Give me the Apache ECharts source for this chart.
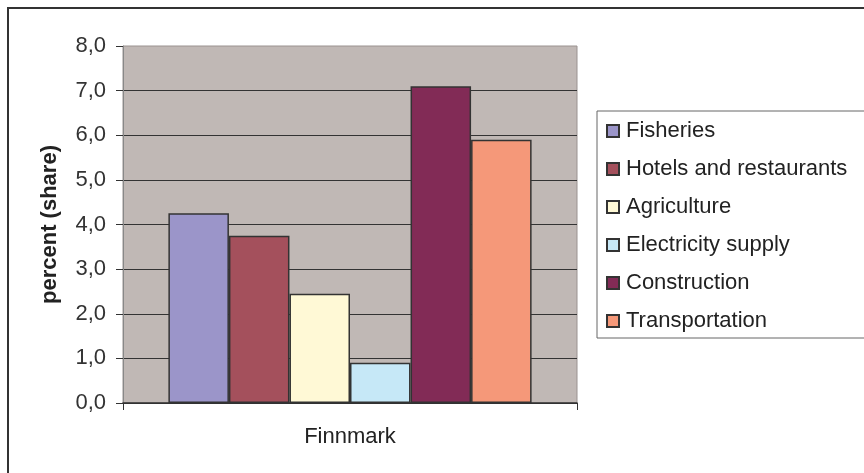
<!DOCTYPE html>
<html>
<head>
<meta charset="utf-8">
<script src="https://cdn.jsdelivr.net/npm/echarts@6/dist/echarts.min.js"></script>
<style>
  html, body { margin: 0; padding: 0; background: #fff; }
  #chart { width: 864px; height: 473px; }
</style>
</head>
<body>
<div id="chart"></div>
<script>
// data
const categories = ['Finnmark']
const seriesNames = ['Fisheries', 'Hotels and restaurants', 'Agriculture', 'Electricity supply', 'Construction', 'Transportation']
const seriesValues = [4.25, 3.75, 2.45, 0.9, 7.1, 5.9]
const seriesColors = ['#9b95c9', '#a4505c', '#fff9d6', '#c6e8f7', '#822b56', '#f59879']

const font = 'Arial, "Liberation Sans", sans-serif'

const chart = echarts.init(document.getElementById('chart'))

const series = seriesNames.map((name, i) => ({
  name: name,
  type: 'bar',
  data: [seriesValues[i]],
  barGap: '0%',
  barCategoryGap: '20%',
  itemStyle: {
    color: seriesColors[i],
    borderColor: '#333',
    borderWidth: 1.5
  }
}))

chart.setOption({
  animation: false,
  textStyle: { fontFamily: font },
  graphic: [{
    type: 'rect',
    shape: { x: 8, y: 8, width: 880, height: 490 },
    style: { fill: 'none', stroke: '#333', lineWidth: 2 },
    silent: true
  }],
  grid: {
    left: 123,
    right: 287,
    top: 46,
    bottom: 70,
    show: true,
    backgroundColor: '#c0b8b5',
    borderColor: '#9a9290',
    borderWidth: 1
  },
  legend: {
    orient: 'vertical',
    left: 597,
    top: 111,
    padding: [9, 40, 6, 9],
    icon: 'rect',
    itemWidth: 12,
    itemHeight: 12,
    itemGap: 16,
    borderColor: '#666',
    borderWidth: 1,
    backgroundColor: '#fff',
    textStyle: { fontSize: 22, lineHeight: 22, color: '#222', fontFamily: font, padding: [0, 0, 0, 2] },
    data: seriesNames
  },
  xAxis: {
    type: 'category',
    data: categories,
    axisLine: { lineStyle: { color: '#333', width: 1.5 } },
    axisTick: { show: true, length: 7, lineStyle: { color: '#333' } },
    axisLabel: { fontSize: 22, color: '#222', margin: 23 }
  },
  yAxis: {
    type: 'value',
    min: 0,
    max: 8,
    interval: 1,
    name: 'percent (share)',
    nameLocation: 'middle',
    nameGap: 62,
    nameTextStyle: { fontSize: 22, fontWeight: 'bold', color: '#222' },
    axisLine: { show: true, lineStyle: { color: '#888' } },
    axisTick: { show: true, length: 7, lineStyle: { color: '#333' } },
    axisLabel: {
      fontSize: 22,
      color: '#333',
      margin: 17,
      formatter: v => v.toFixed(1).replace('.', ',')
    },
    splitLine: { show: true, showMaxLine: false, lineStyle: { color: '#333', width: 1 } }
  },
  series: series
})
</script>
</body>
</html>
